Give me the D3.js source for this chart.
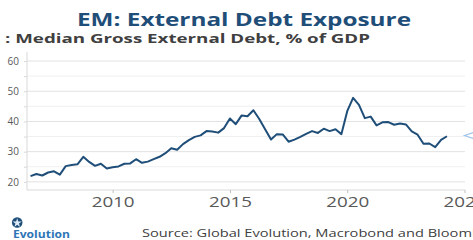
<!DOCTYPE html>
<html>
<head>
<meta charset="utf-8">
<script src="https://cdn.jsdelivr.net/npm/d3@7"></script>
<style>
    html, body { margin: 0; padding: 0; background: #fff; }
    svg { display: block; font-family: 'Open Sans', sans-serif; }
</style>
</head>
<body>
<div id="chart"></div>
<script>
// Median gross external debt, % of GDP, quarterly from 2006 Q3
var startYear = 2006.5,
    step = 0.25,
    debt = [
        21.9, 22.6, 22.1, 23.1, 23.5, 22.4, 25.2, 25.6, 25.8, 28.3,
        26.6, 25.3, 26.0, 24.4, 24.8, 25.1, 26.0, 26.1, 27.5, 26.3,
        26.7, 27.5, 28.3, 29.5, 31.1, 30.6, 32.5, 33.8, 34.9, 35.4,
        36.8, 36.7, 36.3, 37.8, 41.0, 39.1, 42.0, 41.7, 43.7, 40.8,
        37.4, 34.0, 35.8, 35.7, 33.3, 34.0, 34.9, 35.9, 36.8, 36.2,
        37.6, 36.8, 37.4, 35.8, 43.4, 47.8, 45.5, 41.1, 41.6, 38.7,
        39.7, 39.8, 38.9, 39.3, 39.0, 36.7, 35.6, 32.6, 32.7, 31.5,
        33.9, 35.1
    ],
    yearTicks = [ 2010, 2015, 2020, 2025 ],
    majorTicks = [ 20, 30, 40, 50, 60 ],
    minorTicks = [ 25, 35, 45, 55 ];

var width = 473,
    height = 240,
    plotLeft = 27,
    plotRight = 465,
    plotTop = 52,
    plotBottom = 190;

var points = debt.map( ( v, i ) => ( { t: startYear + i * step, v } ) );

var svg = d3.select( '#chart' )
    .append( 'svg' )
    .attr( 'width', width )
    .attr( 'height', height );

var x = d3.scaleLinear()
    .domain( [ 2006.35, 2025.02 ] )
    .range( [ plotLeft, plotRight ] );

var y = d3.scaleLinear()
    .domain( [ 17.3, 63 ] )
    .range( [ plotBottom, plotTop ] );

// Titles
svg.append( 'text' )
    .attr( 'x', 244 )
    .attr( 'y', 26 )
    .attr( 'text-anchor', 'middle' )
    .attr( 'textLength', 334 )
    .attr( 'lengthAdjust', 'spacingAndGlyphs' )
    .style( 'font-size', '17.5px' )
    .style( 'font-weight', 700 )
    .style( 'fill', '#1F4E79' )
    .text( 'EM: External Debt Exposure' );

svg.append( 'text' )
    .attr( 'x', 5 )
    .attr( 'y', 43 )
    .attr( 'textLength', 365 )
    .attr( 'lengthAdjust', 'spacingAndGlyphs' )
    .style( 'font-size', '12.5px' )
    .style( 'font-weight', 700 )
    .style( 'fill', '#404040' )
    .text( ': Median Gross External Debt, % of GDP' );

// Grid
svg.append( 'g' )
    .selectAll( 'line' )
    .data( minorTicks )
    .join( 'line' )
    .attr( 'x1', plotLeft )
    .attr( 'x2', plotRight )
    .attr( 'y1', d => y( d ) )
    .attr( 'y2', d => y( d ) )
    .style( 'stroke', '#f0f0f0' );

svg.append( 'g' )
    .selectAll( 'line' )
    .data( majorTicks )
    .join( 'line' )
    .attr( 'x1', plotLeft )
    .attr( 'x2', plotRight )
    .attr( 'y1', d => y( d ) )
    .attr( 'y2', d => y( d ) )
    .style( 'stroke', '#e2e2e2' );

// Y axis
var yAxis = svg.append( 'g' )
    .attr( 'transform', `translate(${ plotLeft },0)` )
    .call( d3.axisLeft( y )
        .tickValues( majorTicks.concat( minorTicks ) )
        .tickSize( 3 )
        .tickFormat( d => majorTicks.includes( d ) ? d : '' ) );

yAxis.select( '.domain' )
    .attr( 'd', `M0,${ plotTop }V${ plotBottom }` )
    .style( 'stroke', '#d9d9d9' );
yAxis.selectAll( '.tick line' ).style( 'stroke', '#d9d9d9' );
yAxis.selectAll( 'text' )
    .attr( 'x', -8 )
    .style( 'font-family', "'Open Sans', sans-serif" )
    .style( 'font-size', '10px' )
    .style( 'fill', '#595959' );

// X axis
var xAxis = svg.append( 'g' )
    .attr( 'transform', `translate(0,${ plotBottom })` )
    .call( d3.axisBottom( x )
        .tickValues( yearTicks )
        .tickSize( 3 )
        .tickFormat( d3.format( 'd' ) ) );

xAxis.select( '.domain' )
    .attr( 'd', `M${ plotLeft },0H${ plotRight }` )
    .style( 'stroke', '#d9d9d9' );
xAxis.selectAll( '.tick line' ).style( 'stroke', '#bfbfbf' );
xAxis.selectAll( 'text' )
    .attr( 'y', 17 )
    .attr( 'dy', 0 )
    .attr( 'textLength', 43 )
    .attr( 'lengthAdjust', 'spacingAndGlyphs' )
    .style( 'font-family', "'Open Sans', sans-serif" )
    .style( 'font-size', '14px' )
    .style( 'fill', '#595959' );

// Series
svg.append( 'path' )
    .datum( points )
    .attr( 'd', d3.line().x( d => x( d.t ) ).y( d => y( d.v ) ) )
    .style( 'fill', 'none' )
    .style( 'stroke', '#1F4E79' )
    .style( 'stroke-width', 2 )
    .style( 'stroke-linejoin', 'round' );

// star marker, cut at the right edge
svg.append( 'path' )
    .attr( 'd', d3.symbol( d3.symbolStar, 205 )() )
    .attr( 'transform', 'translate(478,135.5) rotate(-90)' )
    .style( 'fill', '#fff' )
    .style( 'stroke', '#9DC3E6' )
    .style( 'stroke-width', 1.2 );

// Footer
svg.append( 'circle' )
    .attr( 'cx', 17.2 )
    .attr( 'cy', 222.5 )
    .attr( 'r', 5.3 )
    .style( 'fill', '#1F4E79' );

svg.append( 'path' )
    .attr( 'd', d3.symbol( d3.symbolStar, 26 )() )
    .attr( 'transform', 'translate(17.2,223)' )
    .style( 'fill', '#DEEBF7' );

svg.append( 'text' )
    .attr( 'x', 13 )
    .attr( 'y', 238 )
    .attr( 'textLength', 57 )
    .attr( 'lengthAdjust', 'spacingAndGlyphs' )
    .style( 'font-size', '10px' )
    .style( 'font-weight', 700 )
    .style( 'fill', '#2E75B6' )
    .text( 'Evolution' );

svg.append( 'text' )
    .attr( 'x', 142 )
    .attr( 'y', 237 )
    .attr( 'textLength', 361 )
    .attr( 'lengthAdjust', 'spacingAndGlyphs' )
    .style( 'font-size', '11px' )
    .style( 'fill', '#404040' )
    .text( 'Source: Global Evolution, Macrobond and Bloomberg' );
</script>
</body>
</html>
